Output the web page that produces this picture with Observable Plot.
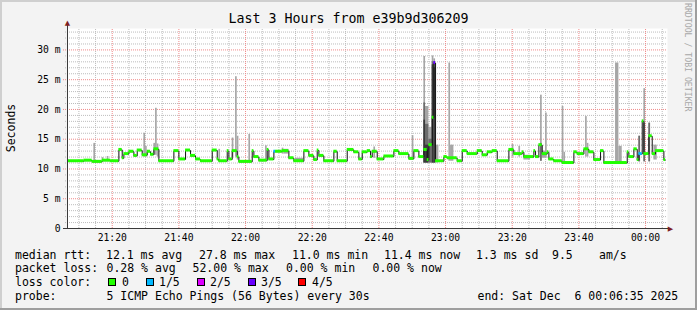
<!DOCTYPE html>
<html>
<head>
<meta charset="utf-8">
<script src="https://cdn.jsdelivr.net/npm/d3@7"></script>
<script src="https://cdn.jsdelivr.net/npm/@observablehq/plot@0.6"></script>
<style>
html, body { margin: 0; padding: 0; background: #f3f3f3; }
#wrap { position: relative; width: 697px; height: 310px; background: #f3f3f3; overflow: hidden;
  font-family: "DejaVu Sans Mono", monospace; color: #000; }
#wrap .t { position: absolute; white-space: pre; font-size: 11.5px; line-height: 14px; }
#chart { position: absolute; left: 0; top: 0; }
.sq { position: absolute; width: 6px; height: 6px; border: 1px solid #000; }
.edge { position: absolute; }
</style>
</head>
<body>
<div id="wrap">
  <div class="edge" style="left:0;top:0;width:697px;height:2px;background:#cfcfcf"></div>
  <div class="edge" style="left:0;top:0;width:2px;height:310px;background:#cfcfcf"></div>
  <div class="edge" style="left:0;top:308px;width:697px;height:2px;background:#9e9e9e"></div>
  <div class="edge" style="left:695px;top:0;width:2px;height:310px;background:#9e9e9e"></div>
  <div id="chart"></div>
  <div class="t" id="title" style="left:0;top:11px;width:697px;text-align:center;font-size:13.3px;line-height:16px"></div>
  <div class="t" id="ylab" style="left:-14px;top:121px;width:50px;text-align:center;transform:rotate(-90deg)"></div>
  <div class="t" id="credit" style="left:634px;top:52px;width:108px;text-align:center;font-size:8.2px;line-height:10px;color:#a8a8a8;transform:rotate(90deg)"></div>
  <div id="legend"></div>
</div>
<script>
// ---------- data ----------
const titleText = "Last 3 Hours from e39b9d306209";
const yAxisLabel = "Seconds";
const creditText = "RRDTOOL / TOBI OETIKER";
const rangeStart = "21:06:35";
const rangeEnd = "00:06:35";
const dataEnd = "00:06:00";

const xTickLabels = ["21:20", "21:40", "22:00", "22:20", "22:40", "23:00", "23:20", "23:40", "00:00"];
const yTickValues = [0, 5, 10, 15, 20, 25, 30];
const yMax = 33.6;

// median rtt (ms), step series: start time of each step, value, lost pings (of 5)
const medTimes = ["21:06:35","21:11:30","21:14:00","21:17:00","21:19:30","21:22:00","21:23:00","21:23:30","21:25:00","21:26:30",
  "21:27:30","21:29:00","21:30:30","21:31:30","21:32:30","21:34:00","21:38:30","21:40:00","21:42:00","21:43:30",
  "21:45:00","21:46:30","21:50:00","21:51:30","21:52:00","21:54:30","21:55:00","21:56:00","21:57:30","21:58:00",
  "22:02:00","22:02:30","22:04:00","22:06:30","22:07:00","22:08:30","22:09:00","22:11:00","22:13:00","22:14:30",
  "22:17:30","22:19:00","22:20:30","22:21:30","22:22:00","22:23:30","22:26:30","22:27:30","22:30:30","22:32:30",
  "22:34:00","22:35:00","22:36:30","22:37:30","22:38:00","22:39:30","22:41:30","22:44:30","22:46:00","22:49:00",
  "22:50:30","22:52:00","22:53:30","22:54:30","22:55:00","22:56:00","22:56:30","22:57:00","22:59:30","23:00:30",
  "23:03:30","23:05:00","23:06:30","23:09:30","23:11:00","23:12:30","23:14:00","23:15:30","23:19:00","23:20:30",
  "23:23:00","23:23:30","23:26:30","23:27:00","23:28:00","23:29:00","23:30:30","23:31:00","23:32:30","23:35:00",
  "23:38:30","23:39:30","23:41:30","23:43:00","23:44:30","23:46:30","23:47:30","23:54:30","23:55:00","23:56:30",
  "23:57:30","23:58:00","23:59:00","23:59:30","00:01:00","00:02:00","00:03:00","00:05:30"];
const medValues = [11.3,11.4,11.2,11.4,11.3,13.2,11.8,12.5,12.9,12.2,
  13.1,12.3,12.9,12.4,13.3,11.3,13.0,11.6,13.1,12.2,
  11.6,11.3,13.1,11.6,11.3,13.0,11.6,13.0,12.0,11.2,
  13.0,12.0,11.4,13.2,11.6,12.9,12.9,13.0,11.8,11.3,
  13.0,12.2,11.5,13.1,12.2,11.3,12.9,11.3,13.2,12.8,
  11.6,12.8,13.0,12.0,12.9,11.6,12.1,13.0,12.5,11.7,
  13.0,12.0,13.2,11.5,14.0,18.6,27.8,11.3,12.0,11.8,
  11.3,13.0,12.5,13.0,12.3,12.8,13.0,11.3,13.2,12.5,
  12.8,12.0,13.0,12.0,14.0,12.5,12.8,11.6,11.3,11.0,
  12.8,12.5,13.3,12.8,11.5,13.0,11.0,12.8,12.0,13.3,
  11.5,12.5,18.0,12.5,15.5,12.5,13.0,11.5];
const medLoss = [0,0,0,0,0,0,0,0,0,0, 0,0,0,0,0,0,0,0,0,0, 0,0,0,0,0,0,0,0,0,0,
  0,0,0,0,0,1,0,0,0,0, 0,0,0,0,0,0,0,0,0,0, 0,0,0,0,0,0,0,0,0,0,
  0,0,0,0,0,0,3,0,0,0, 0,0,0,0,0,0,0,0,0,0, 0,0,0,0,0,0,0,0,0,0,
  0,0,0,0,0,0,0,0,0,0, 0,1,0,0,0,0,0,0];

// smoke (spread of the 5 pings, ms)
const smokeStart = ["21:14:30","21:17:00","21:18:30","21:29:30","21:30:00","21:32:30","21:33:00","21:33:30","21:52:00","21:56:00",
  "21:57:00","21:57:30","22:01:00","22:06:00","22:11:00","22:11:30","22:15:00","22:38:30","22:50:00","22:53:30",
  "22:54:00","22:55:00","22:56:00","22:56:30","22:57:00","23:01:00","23:01:30","23:20:00","23:22:00","23:23:30",
  "23:28:30","23:29:00","23:30:00","23:35:00","23:35:30","23:42:00","23:42:30","23:51:00","23:52:00","23:58:00",
  "23:59:30","00:01:00","00:02:30"];
const smokeEnd = ["21:15:00","21:17:30","21:19:00","21:30:00","21:30:30","21:33:00","21:33:30","21:34:00","21:52:30","21:56:30",
  "21:57:30","21:58:00","22:01:30","22:06:30","22:11:30","22:13:00","22:17:30","22:39:00","22:50:30","22:54:00",
  "22:55:00","22:56:00","22:56:30","22:57:00","22:58:00","23:01:30","23:02:30","23:20:30","23:22:30","23:25:30",
  "23:29:00","23:30:00","23:30:30","23:35:30","23:36:00","23:42:30","23:43:00","23:52:00","23:53:00","23:58:30",
  "00:00:00","00:01:30","00:03:30"];
const smokeLow = [11.3,11.3,11.3,12.0,12.0,12.3,12.3,12.0,11.3,12.0,
  12.0,11.5,11.3,11.5,12.5,12.5,11.2,11.8,11.5,11.0,
  11.0,11.0,11.0,11.0,11.0,11.3,11.3,12.0,12.0,11.5,
  11.3,11.8,11.8,11.0,11.0,12.0,12.0,11.0,11.0,11.2,
  11.2,11.2,11.5];
const smokeHigh = [14.3,11.9,12.1,16.0,13.8,14.3,20.2,14.2,13.3,15.2,
  25.5,15.5,15.8,13.9,13.5,13.3,11.8,13.7,15.6,28.9,
  20.5,17.0,29.0,28.5,14.0,27.8,14.0,14.1,13.8,12.3,
  22.4,13.0,19.4,20.5,12.8,18.8,14.3,27.8,13.8,15.5,
  23.5,17.7,14.0];
const smokeInner = [null,null,null,null,null,null,null,null,null,null,
  null,null,null,null,null,null,null,null,null,21.1,
  17.5,15.0,28.0,28.0,null,null,null,null,null,null,
  14.3,null,null,null,null,null,null,null,null,15.5,
  17.7,17.7,null];
const smokeCore = [null,null,null,null,null,null,null,null,null,null,
  null,null,null,null,null,null,null,null,null,18.2,
  14.0,null,27.5,27.0,null,null,null,null,null,null,
  null,null,null,null,null,null,null,null,null,null,
  null,null,null];

// legend texts
const lossColors = ["#22ff00", "#00b8ff", "#dd00ff", "#6a00ff", "#ff0000"];
const lossLabels = ["0", "1/5", "2/5", "3/5", "4/5"];
const legendHeads = ["median rtt:", "packet loss:", "loss color:", "probe:"];
const rttStats = ["12.1 ms avg", "27.8 ms max", "11.0 ms min", "11.4 ms now", "1.3 ms sd", "9.5", "am/s"];
const lossStats = ["0.28 % avg", "52.00 % max", "0.00 % min", "0.00 % now"];
const probeText = "5 ICMP Echo Pings (56 Bytes) every 30s";
const endText = "end: Sat Dec  6 00:06:35 2025";

// ---------- build ----------
const parseT = s => { const [h, m, sec] = s.split(":").map(Number); return new Date(2025, 11, h >= 12 ? 5 : 6, h, m, sec || 0); };
const t0 = parseT(rangeStart), t1 = parseT(rangeEnd), tLast = parseT(dataEnd);
const SEC = 1000;
const pxSec = 18; // seconds per pixel

const med = medTimes.map((t, i) => ({
  t1: parseT(t), t2: i + 1 < medTimes.length ? parseT(medTimes[i + 1]) : tLast,
  v: medValues[i], loss: medLoss[i]
}));
const medLine = med.map(d => ({t: d.t1, v: d.v})).concat([{t: tLast, v: medValues[medValues.length - 1]}]);

const smoke = smokeStart.map((s, i) => ({
  t1: parseT(s), t2: parseT(smokeEnd[i]), lo: smokeLow[i], hi: smokeHigh[i], inner: smokeInner[i], core: smokeCore[i]
}));

const majorTimes = xTickLabels.map(parseT);
const minorTimes = [];
for (let t = new Date(2025, 11, 5, 21, 10); t < t1; t = new Date(+t + 5 * 60 * SEC)) {
  if (t.getMinutes() % 20 !== 0) minorTimes.push(t);
}
const minorY = d3.range(1, Math.floor(yMax) + 1).filter(v => v % 5 !== 0);
const majorY = yTickValues.filter(v => v > 0);

const fmt = d3.timeFormat("%H:%M");
const tMinor = new Date(+t0 - 2 * pxSec * SEC);
const tMajor = new Date(+t0 - 4 * pxSec * SEC);
const tAxisEnd = new Date(+t1 + 3 * pxSec * SEC);

const plot = Plot.plot({
  width: 697, height: 245,
  marginLeft: 67, marginRight: 30, marginTop: 28, marginBottom: 17,
  x: {type: "time", domain: [t0, t1], axis: null},
  y: {domain: [0, yMax], axis: null},
  style: {background: "transparent", fontFamily: "DejaVu Sans Mono", fontSize: "9.7px", color: "#000", overflow: "visible"},
  marks: [
    Plot.frame({fill: "white", stroke: null}),
    Plot.ruleY(minorY, {y: d => d, x1: () => tMinor, x2: () => t1, stroke: "#bdbdbd", strokeDasharray: "1,1"}),
    Plot.ruleX(minorTimes, {x: d => d, y1: 0, y2: yMax, stroke: "#bdbdbd", strokeDasharray: "1,1"}),
    Plot.ruleY(majorY, {y: d => d, x1: () => tMajor, x2: () => t1, stroke: "#f08a8a", strokeDasharray: "1,1"}),
    Plot.ruleX(majorTimes, {x: d => d, y1: 0, y2: yMax, stroke: "#f08a8a", strokeDasharray: "1,1"}),
    Plot.rect(smoke, {x1: "t1", x2: "t2", y1: "lo", y2: "hi", fill: "#a6a6a6"}),
    Plot.rect(smoke.filter(d => d.inner != null), {x1: "t1", x2: "t2", y1: "lo", y2: "inner", fill: "#6c6c6c"}),
    Plot.rect(smoke.filter(d => d.core != null), {x1: "t1", x2: "t2", y1: "lo", y2: "core", fill: "#3a3a3a"}),
    Plot.line(medLine, {x: "t", y: "v", curve: "step-after", stroke: "#111", strokeWidth: 1}),
    Plot.rect(med, {x1: "t1", x2: "t2", y1: d => d.v - 0.25, y2: d => d.v + 0.25, fill: d => lossColors[d.loss]}),
    Plot.ruleY([0], {x1: () => tMajor, x2: () => tAxisEnd, stroke: "#3a3a3a"}),
    Plot.ruleX([t0], {y1: 0, y2: yMax + 0.6, stroke: "#3a3a3a"}),
    Plot.text([0], {x: () => t0, y: () => yMax + 0.9, text: () => "▲", fill: "#7f1f1f", fontSize: 7, fontFamily: "DejaVu Sans"}),
    Plot.text([0], {x: () => tAxisEnd, y: () => 0, text: () => "▶", fill: "#7f1f1f", fontSize: 7, fontFamily: "DejaVu Sans"}),
    Plot.axisX(majorTimes, {tickSize: 0, tickPadding: 6, tickFormat: fmt, label: null}),
    Plot.axisY(yTickValues, {tickSize: 0, tickPadding: 7, tickFormat: d => d === 0 ? "0" : d + " m", label: null})
  ]
});
document.getElementById("chart").appendChild(plot);

document.getElementById("title").textContent = titleText;
document.getElementById("ylab").textContent = yAxisLabel;
document.getElementById("credit").textContent = creditText;

// legend (absolute text runs)
const legend = document.getElementById("legend");
const put = (txt, left, top, extra) => {
  const e = document.createElement("div");
  e.className = "t"; e.textContent = txt;
  e.style.left = left + "px"; e.style.top = top + "px";
  if (extra) Object.assign(e.style, extra);
  legend.appendChild(e);
};
const rowTop = [247.5, 261, 275, 288.5];
legendHeads.forEach((h, i) => put(h, 15, rowTop[i]));
const rttX = [106, 199, 292, 384, 476, 552, 599];
rttStats.forEach((s, i) => put(s, rttX[i], rowTop[0]));
const lossX = [106.5, 192.5, 286, 372.5];
lossStats.forEach((s, i) => put(s, lossX[i], rowTop[1]));
const sqX = [108, 145.5, 196.5, 247.5, 298];
const lblX = [122, 159, 210, 261, 312];
lossColors.forEach((c, i) => {
  const q = document.createElement("div");
  q.className = "sq"; q.style.left = sqX[i] + "px"; q.style.top = "278px"; q.style.background = c;
  legend.appendChild(q);
  put(lossLabels[i], lblX[i], rowTop[2]);
});
put(probeText, 106.5, rowTop[3]);
put(endText, 477.5, rowTop[3]);
</script>
</body>
</html>
